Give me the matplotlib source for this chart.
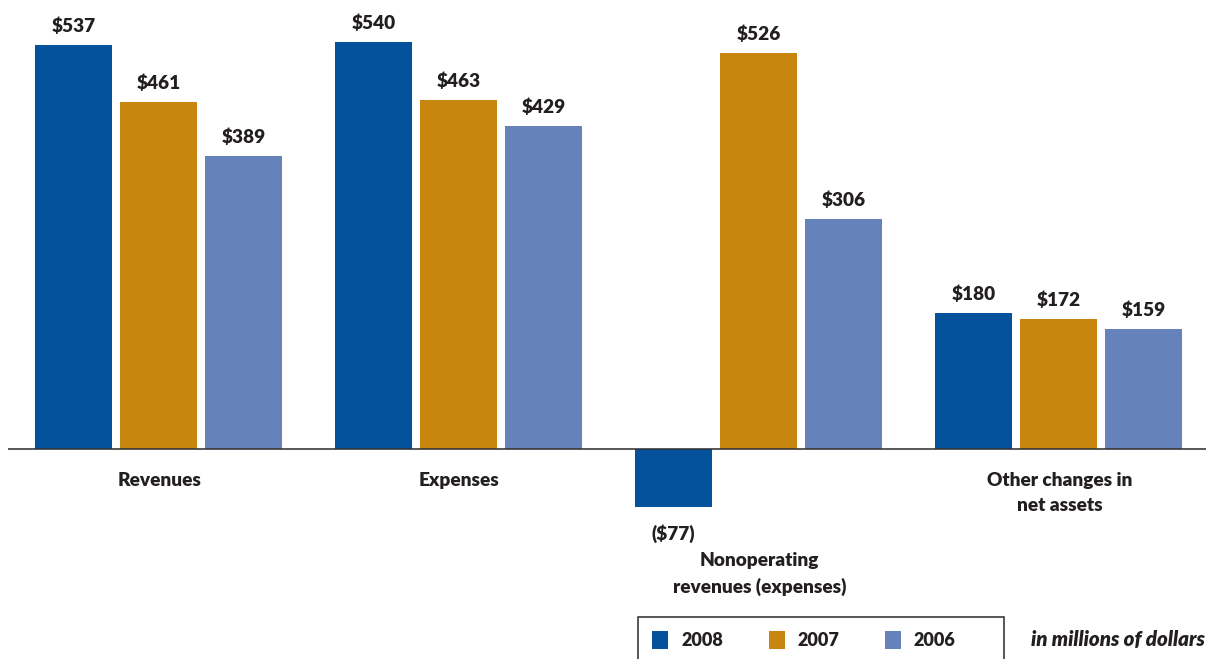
import numpy as np
import matplotlib
matplotlib.use('Agg')
import matplotlib.pyplot as plt
from matplotlib.patches import Rectangle

# Financial summary, in millions of dollars
categories = ['Revenues', 'Expenses', 'Nonoperating\nrevenues (expenses)',
              'Other changes in\nnet assets']
years = ['2008', '2007', '2006']
values_2008 = [537, 540, -77, 180]
values_2007 = [461, 463, 526, 172]
values_2006 = [389, 429, 306, 159]

colors = ['#03529b', '#c8860e', '#6682ba']
text_color = '#231f20'

W, H = 1206, 659
DPI = 72
plt.rcParams['font.family'] = ['Lato', 'DejaVu Sans']
WEIGHT = 'heavy'


def money(v):
    return '($%d)' % -v if v < 0 else '$%d' % v


def fig_xy(x, y):
    # pixel position measured from the top-left corner -> figure fraction
    return x / W, 1 - y / H


def main():
    fig = plt.figure(figsize=(W / DPI, H / DPI), dpi=DPI)
    ax = fig.add_axes([0, 0, 1, 1])
    ax.set_xlim(0, W)
    # 0.753 px per million, zero line 449 px from the top
    scale = 0.753
    ax.set_ylim(-(H - 449) / scale, 449 / scale)
    ax.axis('off')

    group_x = 158.5 + 300 * np.arange(len(categories))
    offsets = [-85, 0, 85]
    series = [values_2008, values_2007, values_2006]

    for vals, off, col in zip(series, offsets, colors):
        bars = ax.bar(group_x + off, vals, width=77, color=col, linewidth=0)
        for b, v in zip(bars, vals):
            x = b.get_x() + b.get_width() / 2
            if v >= 0:
                ax.annotate(money(v), (x, v), xytext=(0, 10),
                            textcoords='offset points', ha='center', va='bottom',
                            fontsize=19, fontweight=WEIGHT, color=text_color)
            else:
                ax.annotate(money(v), (x, v), xytext=(0, -17),
                            textcoords='offset points', ha='center', va='top',
                            fontsize=19, fontweight=WEIGHT, color=text_color)

    # zero line
    ax.plot([8, W], [0, 0], color='#333333', linewidth=1.6, solid_capstyle='butt')

    # category labels below the axis
    label_y = [480, 480, 560, 480]
    for gx, cat, ly in zip(group_x, categories, label_y):
        fig.text(*fig_xy(gx + 1, ly - 8), cat, ha='center', va='top',
                 fontsize=19, fontweight=WEIGHT, color=text_color,
                 linespacing=1.6)

    # legend box
    x0, y0 = fig_xy(638, 617)
    x1, y1 = fig_xy(1004, 670)
    fig.patches.append(Rectangle((x0, y1), x1 - x0, y0 - y1, transform=fig.transFigure,
                                 fill=False, edgecolor='#333333', linewidth=1.6))
    for i, (yr, col) in enumerate(zip(years, colors)):
        sx = 652 + 116.5 * i
        rx, ry = fig_xy(sx, 649)
        fig.patches.append(Rectangle((rx, ry), 16 / W, 18 / H, transform=fig.transFigure,
                                     facecolor=col, edgecolor='none'))
        fig.text(*fig_xy(sx + 29, 640), yr, ha='left', va='center',
                 fontsize=18, fontweight=WEIGHT, color=text_color)

    fig.text(*fig_xy(1031, 640), 'in millions of dollars', ha='left', va='center',
             fontsize=20.5, fontweight=WEIGHT, style='italic', color=text_color)

    fig.savefig('out.png', dpi=DPI)


if __name__ == '__main__':
    main()
